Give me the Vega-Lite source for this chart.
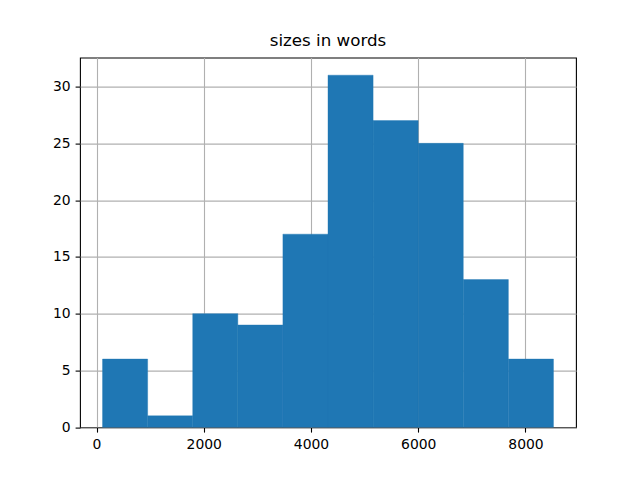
{
  "$schema": "https://vega.github.io/schema/vega-lite/v6.json",
  "width": 496,
  "height": 369.6,
  "autosize": {"type": "none"},
  "padding": {"left": 80, "top": 57.6, "right": 64, "bottom": 52.8},
  "background": "white",
  "title": {"text": "sizes in words", "fontSize": 16.7, "font": "DejaVu Sans", "fontWeight": "normal", "color": "black", "offset": 8, "anchor": "middle"},
  "config": {
    "view": {"stroke": "black", "strokeWidth": 1.1},
    "axis": {
      "labelFont": "DejaVu Sans", "labelFontSize": 13.9, "labelColor": "black",
      "tickColor": "black", "tickSize": 4.9, "tickWidth": 1.1,
      "domain": false,
      "grid": true, "gridColor": "#b0b0b0", "gridWidth": 1.1,
      "title": null, "zindex": 1, "labelPadding": 4.9
    }
  },
  "data": {"values": [
    {"start": 112, "end": 953, "count": 6},
    {"start": 953, "end": 1794, "count": 1},
    {"start": 1794, "end": 2635, "count": 10},
    {"start": 2635, "end": 3476, "count": 9},
    {"start": 3476, "end": 4317, "count": 17},
    {"start": 4317, "end": 5158, "count": 31},
    {"start": 5158, "end": 5999, "count": 27},
    {"start": 5999, "end": 6840, "count": 25},
    {"start": 6840, "end": 7681, "count": 13},
    {"start": 7681, "end": 8522, "count": 6}
  ]},
  "mark": {"type": "bar", "color": "#1f77b4", "stroke": "#1f77b4", "strokeWidth": 0.4},
  "encoding": {
    "x": {"field": "start", "type": "quantitative", "scale": {"domain": [-308.5, 8942.5], "nice": false, "zero": false, "padding": 0}, "axis": {"values": [0, 2000, 4000, 6000, 8000], "format": "d"}},
    "x2": {"field": "end"},
    "y": {"field": "count", "type": "quantitative", "scale": {"domain": [0, 32.55], "nice": false, "padding": 0}, "axis": {"values": [0, 5, 10, 15, 20, 25, 30]}},
    "y2": {"datum": 0}
  }
}
